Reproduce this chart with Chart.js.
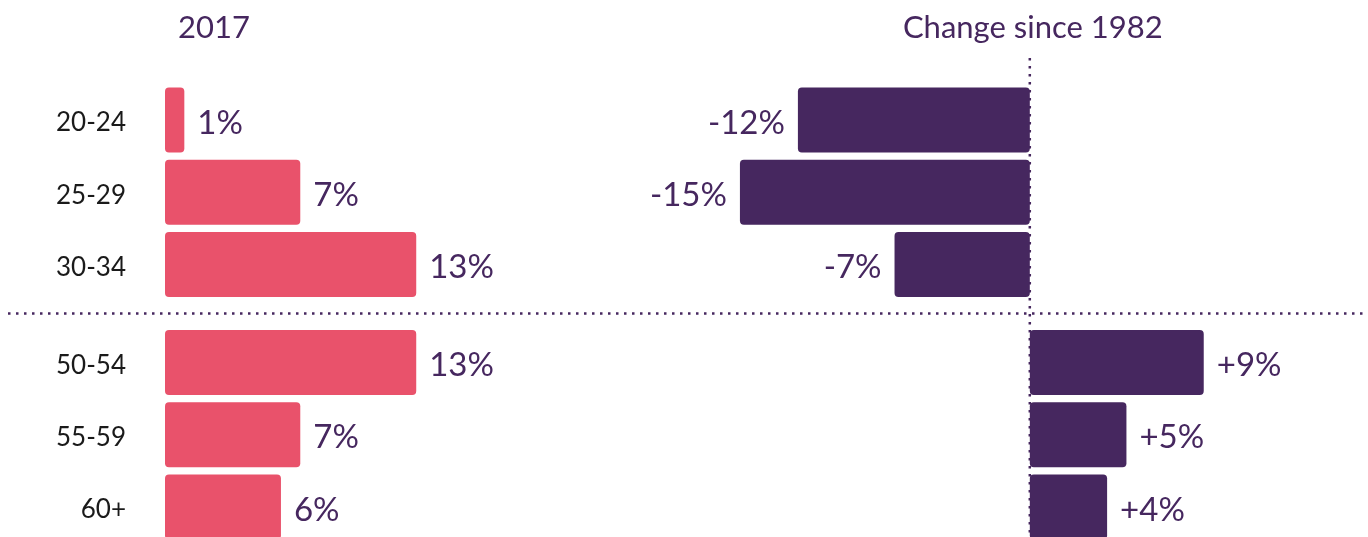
<!DOCTYPE html>
<html><head><meta charset="utf-8">
<script src="https://cdn.jsdelivr.net/npm/chart.js@4/dist/chart.umd.min.js"></script>
<style>
html,body{margin:0;padding:0;background:#fff;overflow:hidden;}
#wrap{position:relative;width:1368px;height:543px;}
</style></head><body>
<div id="wrap"><canvas id="c"></canvas></div>
<script>
// ---- data ----
const topCategories = ['20-24', '25-29', '30-34'];
const bottomCategories = ['50-54', '55-59', '60+'];
const share2017Top = [1, 7, 13];
const share2017Bottom = [13, 7, 6];
const changeTop = [-12, -15, -7];
const changeBottom = [9, 5, 4];
const panelTitles = ['2017', 'Change since 1982'];
const leftRange = [0, 24.75];
const rightRange = [-20, 17.5];

// ---- style ----
const PINK = '#E9526B';
const PURPLE = '#46275F';
const FONT = 'Lato, "Open Sans", sans-serif';

function mkDs(data, x, y, color, signed) {
  return {
    data: data, xAxisID: x, yAxisID: y, backgroundColor: color,
    borderRadius: 4, borderSkipped: false, borderWidth: 0,
    barPercentage: 0.9, categoryPercentage: 1.0, grouped: false, signed: signed
  };
}

const decor = {
  id: 'decor',
  beforeDatasetsDraw(chart) {
    const ctx = chart.ctx;
    const xr = chart.scales.xr, yt = chart.scales.yt, yb = chart.scales.yb;
    ctx.save();
    ctx.strokeStyle = PURPLE;
    ctx.lineWidth = 2.5;
    ctx.setLineDash([2.5, 5.5]);
    const yMid = (yt.bottom + yb.top) / 2;
    ctx.beginPath(); ctx.moveTo(8, yMid); ctx.lineTo(chart.width, yMid); ctx.stroke();
    const x0 = xr.getPixelForValue(0);
    ctx.beginPath(); ctx.moveTo(x0, 58); ctx.lineTo(x0, chart.height); ctx.stroke();
    ctx.restore();
  },
  afterDatasetsDraw(chart) {
    const ctx = chart.ctx;
    ctx.save();
    ctx.fillStyle = PURPLE;
    ctx.font = '33px ' + FONT;
    ctx.textBaseline = 'middle';
    chart.data.datasets.forEach((ds, i) => {
      const meta = chart.getDatasetMeta(i);
      meta.data.forEach((bar, j) => {
        const v = ds.data[j];
        const txt = (ds.signed && v > 0 ? '+' : '') + v + '%';
        if (v < 0) {
          ctx.textAlign = 'right';
          ctx.fillText(txt, bar.x - 13, bar.y + 3);
        } else {
          ctx.textAlign = 'left';
          ctx.fillText(txt, bar.x + 13, bar.y + 3);
        }
      });
    });
    // panel titles
    ctx.font = '31px ' + FONT;
    ctx.textBaseline = 'alphabetic';
    ctx.textAlign = 'left';
    ctx.fillText(panelTitles[0], 178, 38);
    ctx.textAlign = 'center';
    ctx.fillText(panelTitles[1], chart.scales.xr.getPixelForValue(0) + 3, 38);
    ctx.restore();
  }
};

function fixAxis(s) {
  s.width = 165;
  s.paddingTop = 0; s.paddingBottom = 0;
}

const yAxis = (labels, w, weight) => ({
  type: 'category', labels: labels, position: 'left', stack: 'rows',
  stackWeight: w, weight: weight, offset: true,
  grid: { display: false, drawTicks: true, tickLength: 39 }, border: { display: false },
  ticks: { color: '#1a1a1a', font: { family: FONT, size: 26 }, padding: 0, labelOffset: 3 },
  afterFit: fixAxis
});

new Chart(document.getElementById('c'), {
  type: 'bar',
  data: {
    datasets: [
      mkDs(share2017Top, 'xl', 'yt', PINK, false),
      mkDs(share2017Bottom, 'xl', 'yb', PINK, false),
      mkDs(changeTop, 'xr', 'yt', PURPLE, true),
      mkDs(changeBottom, 'xr', 'yb', PURPLE, true)
    ]
  },
  options: {
    indexAxis: 'y',
    responsive: true, maintainAspectRatio: false, animation: false,
    layout: { padding: { top: 84, right: 0, bottom: 0, left: 0 } },
    plugins: { legend: { display: false }, tooltip: { enabled: false } },
    scales: {
      xl: { type: 'linear', position: 'bottom', stack: 'cols', weight: 1,
            stackWeight: leftRange[1] - leftRange[0], min: leftRange[0], max: leftRange[1], display: false },
      xr: { type: 'linear', position: 'bottom', stack: 'cols', weight: 2,
            stackWeight: rightRange[1] - rightRange[0], min: rightRange[0], max: rightRange[1], display: false },
      yt: yAxis(topCategories, 216.6, 3),
      ysp: { type: 'category', labels: [''], position: 'left', stack: 'rows', stackWeight: 25.8, weight: 2,
             display: false, afterFit: fixAxis },
      yb: yAxis(bottomCategories, 216.6, 1)
    }
  },
  plugins: [decor]
});
</script>
</body></html>
